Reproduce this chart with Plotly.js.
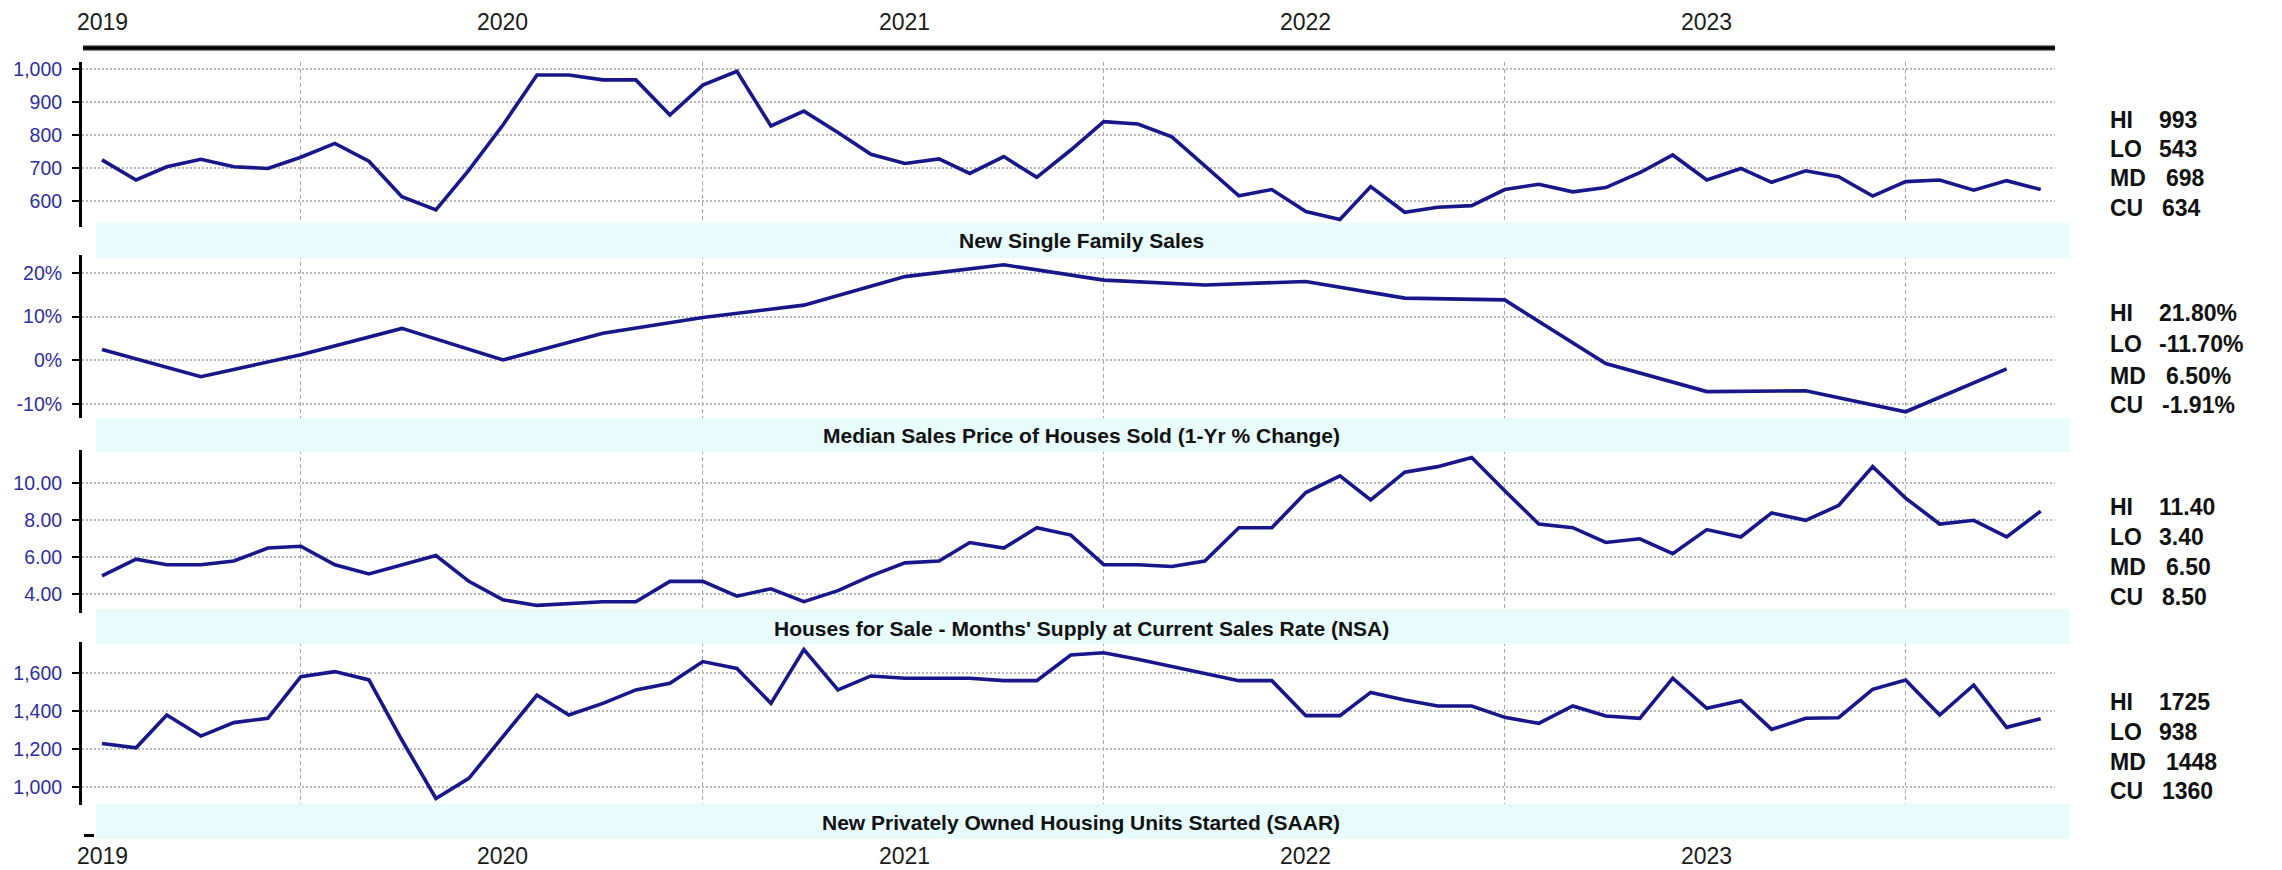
<!DOCTYPE html>
<html><head><meta charset="utf-8">
<script src="https://cdn.plot.ly/plotly-3.0.1.min.js"></script>
<style>html,body{margin:0;padding:0;background:#fff;} #chart{width:2282px;height:870px;}</style>
</head><body><div id="chart"></div>
<script>
const months = ["2019-01","2019-02","2019-03","2019-04","2019-05","2019-06","2019-07","2019-08","2019-09","2019-10","2019-11","2019-12",
"2020-01","2020-02","2020-03","2020-04","2020-05","2020-06","2020-07","2020-08","2020-09","2020-10","2020-11","2020-12",
"2021-01","2021-02","2021-03","2021-04","2021-05","2021-06","2021-07","2021-08","2021-09","2021-10","2021-11","2021-12",
"2022-01","2022-02","2022-03","2022-04","2022-05","2022-06","2022-07","2022-08","2022-09","2022-10","2022-11","2022-12",
"2023-01","2023-02","2023-03","2023-04","2023-05","2023-06","2023-07","2023-08","2023-09","2023-10","2023-11"];
const sales = [724,663,703,726,703,698,732,774,720,612,572,693,
830,982,982,967,967,860,951,993,827,872,807,741,
713,727,683,734,671,754,840,833,794,706,615,634,
567,543,643,565,580,585,634,650,627,640,685,739,
663,698,656,691,673,614,658,663,632,661,634];
const quarters = ["2019-01","2019-04","2019-07","2019-10","2020-01","2020-04","2020-07","2020-10",
"2021-01","2021-04","2021-07","2021-10","2022-01","2022-04","2022-07","2022-10",
"2023-01","2023-04","2023-07","2023-10"];
const priceChange = [2.5,-3.7,1.3,7.3,0.1,6.2,9.8,12.6,19.1,21.8,18.3,17.2,18.0,14.2,13.8,-0.7,-7.1,-6.9,-11.7,-1.91];
const supply = [5.0,5.9,5.6,5.6,5.8,6.5,6.6,5.6,5.1,5.6,6.1,4.7,
3.7,3.4,3.5,3.6,3.6,4.7,4.7,3.9,4.3,3.6,4.2,5.0,
5.7,5.8,6.8,6.5,7.6,7.2,5.6,5.6,5.5,5.8,7.6,7.6,
9.5,10.4,9.1,10.6,10.9,11.4,9.6,7.8,7.6,6.8,7.0,6.2,
7.5,7.1,8.4,8.0,8.8,10.9,9.2,7.8,8.0,7.1,8.5];
const starts = [1229,1206,1379,1268,1339,1362,1582,1609,1565,1247,938,1044,
1265,1485,1379,1441,1512,1547,1662,1626,1441,1725,1512,1586,
1574,1574,1574,1561,1561,1697,1709,1674,1635,1600,1561,1561,
1376,1376,1499,1459,1427,1427,1367,1335,1427,1374,1362,1574,
1415,1455,1303,1362,1365,1515,1565,1379,1538,1314,1360];
const gridDates = ["2019-07-01","2020-07-01","2021-07-01","2022-07-01","2023-07-01"];
const yearDates = ["2019-01-01","2020-01-01","2021-01-01","2022-01-01","2023-01-01"];
const yearLabels = ["2019","2020","2021","2022","2023"];
const panelTitles = ["New Single Family Sales","Median Sales Price of Houses Sold (1-Yr % Change)",
"Houses for Sale - Months' Supply at Current Sales Rate (NSA)","New Privately Owned Housing Units Started (SAAR)"];
const statLabels = ["HI","LO","MD","CU"];
const salesStats = ["993","543","698","634"];
const priceStats = ["21.80%","-11.70%","6.50%","-1.91%"];
const supplyStats = ["11.40","3.40","6.50","8.50"];
const startsStats = ["1725","938","1448","1360"];
const y1Ticks = [600,700,800,900,1000];
const y1Text = ["600","700","800","900","1,000"];
const y2Ticks = [-10,0,10,20];
const y2Text = ["-10%","0%","10%","20%"];
const y3Ticks = [4,6,8,10];
const y3Text = ["4.00","6.00","8.00","10.00"];
const y4Ticks = [1000,1200,1400,1600];
const y4Text = ["1,000","1,200","1,400","1,600"];

const W = 2282, H = 870;
const px = p => p / W;
const py = p => 1 - p / H;
const LINE = '#17178a';
const FONT = 'Liberation Sans, Arial, sans-serif';

const panels = [
  {top:62, bot:227, range:[520.2,1021.3], ticks:y1Ticks, text:y1Text, band:[223,258], titleY:240, stats:salesStats, statY:[120,149,178,208]},
  {top:255, bot:418, range:[-13.12,24.03], ticks:y2Ticks, text:y2Text, band:[418,452], titleY:436, stats:priceStats, statY:[313,344,376,405]},
  {top:450, bot:613, range:[2.99,11.8], ticks:y3Ticks, text:y3Text, band:[609,644], titleY:628, stats:supplyStats, statY:[507,537,567,597]},
  {top:642, bot:805, range:[903.2,1765.6], ticks:y4Ticks, text:y4Text, band:[804,839], titleY:822, stats:startsStats, statY:[702,732,762,791]}
];
const valueX = {HI:2157, LO:2157, MD:2164, CU:2160};

const traces = [
  {x:months, y:sales, xaxis:'x', yaxis:'y'},
  {x:quarters, y:priceChange, xaxis:'x2', yaxis:'y2'},
  {x:months, y:supply, xaxis:'x3', yaxis:'y3'},
  {x:months, y:starts, xaxis:'x4', yaxis:'y4'}
].map(t => Object.assign(t, {type:'scatter', mode:'lines', line:{color:LINE, width:3.6}, hoverinfo:'skip', showlegend:false, cliponaxis:false}));

const layout = {
  width:W, height:H, margin:{l:0,r:0,t:0,b:0}, paper_bgcolor:'#fff', plot_bgcolor:'rgba(0,0,0,0)',
  showlegend:false, font:{family:FONT, color:'#111'}, shapes:[], annotations:[]
};

panels.forEach((p, i) => {
  const n = i === 0 ? '' : String(i + 1);
  layout['xaxis' + n] = {
    type:'date', range:['2018-12-13 19:00','2023-11-14'], domain:[px(82), px(2055)],
    anchor:'y' + n, matches: i === 0 ? undefined : 'x',
    tickvals:gridDates, showticklabels:false, ticks:'', showgrid:true, gridcolor:'#a8a8a8',
    gridwidth:1, griddash:'4px,3px', showline:false, zeroline:false, fixedrange:true
  };
  layout['yaxis' + n] = {
    domain:[py(p.bot), py(p.top)], range:p.range, anchor:'x' + n,
    tickmode:'array', tickvals:p.ticks, ticktext:p.text,
    showline:true, linecolor:'#000', linewidth:3, ticks:'outside', ticklen:7, tickwidth:2, tickcolor:'#000',
    showgrid:true, gridcolor:'#b8b8b8', gridwidth:2, griddash:'2px,2px', zeroline:false,
    tickfont:{family:FONT, size:19.5, color:'#2e2e9e'}, ticklabelstandoff:6, fixedrange:true
  };
  layout.shapes.push({type:'rect', xref:'paper', yref:'paper', x0:px(96), x1:px(2070),
    y0:py(p.band[1]), y1:py(p.band[0]), fillcolor:'#e8fcfc', line:{width:0}, layer:'above'});
  layout.annotations.push({xref:'paper', yref:'paper', x:px(1081), y:py(p.titleY), text:panelTitles[i],
    showarrow:false, xanchor:'center', yanchor:'middle', font:{family:FONT, size:21, color:'#111', weight:'bold'}});
  statLabels.forEach((lab, k) => {
    layout.annotations.push({xref:'paper', yref:'paper', x:px(2108), y:py(p.statY[k]), text:lab,
      showarrow:false, xanchor:'left', yanchor:'middle', font:{family:FONT, size:23, color:'#111', weight:'bold'}});
    layout.annotations.push({xref:'paper', yref:'paper', x:px(valueX[lab]), y:py(p.statY[k]), text:p.stats[k],
      showarrow:false, xanchor:'left', yanchor:'middle', font:{family:FONT, size:23, color:'#111', weight:'bold'}});
  });
});

const yearFont = {family:'Liberation Sans Narrow, Liberation Sans, Arial, sans-serif', size:23, color:'#1a1a1a'};
yearLabels.forEach((yl, i) => {
  layout.annotations.push({xref:'x', yref:'paper', x:yearDates[i], y:py(22), text:yl,
    showarrow:false, xanchor:'center', yanchor:'middle', font:yearFont});
  layout.annotations.push({xref:'x', yref:'paper', x:yearDates[i], y:py(869.5), text:yl,
    showarrow:false, xanchor:'center', yanchor:'bottom', borderpad:0, font:yearFont});
});

// top thick rule and small bottom mark
layout.shapes.push({type:'line', xref:'paper', yref:'paper', x0:px(83), x1:px(2055), y0:py(48), y1:py(48), line:{color:'#8a8a8a', width:6}, layer:'above'});
layout.shapes.push({type:'line', xref:'paper', yref:'paper', x0:px(83), x1:px(2055), y0:py(48), y1:py(48), line:{color:'#000', width:3.5}, layer:'above'});
layout.shapes.push({type:'line', xref:'paper', yref:'paper', x0:px(84), x1:px(94), y0:py(835.5), y1:py(835.5), line:{color:'#000', width:3}, layer:'above'});

Plotly.newPlot('chart', traces, layout, {staticPlot:true, displayModeBar:false});
</script></body></html>
